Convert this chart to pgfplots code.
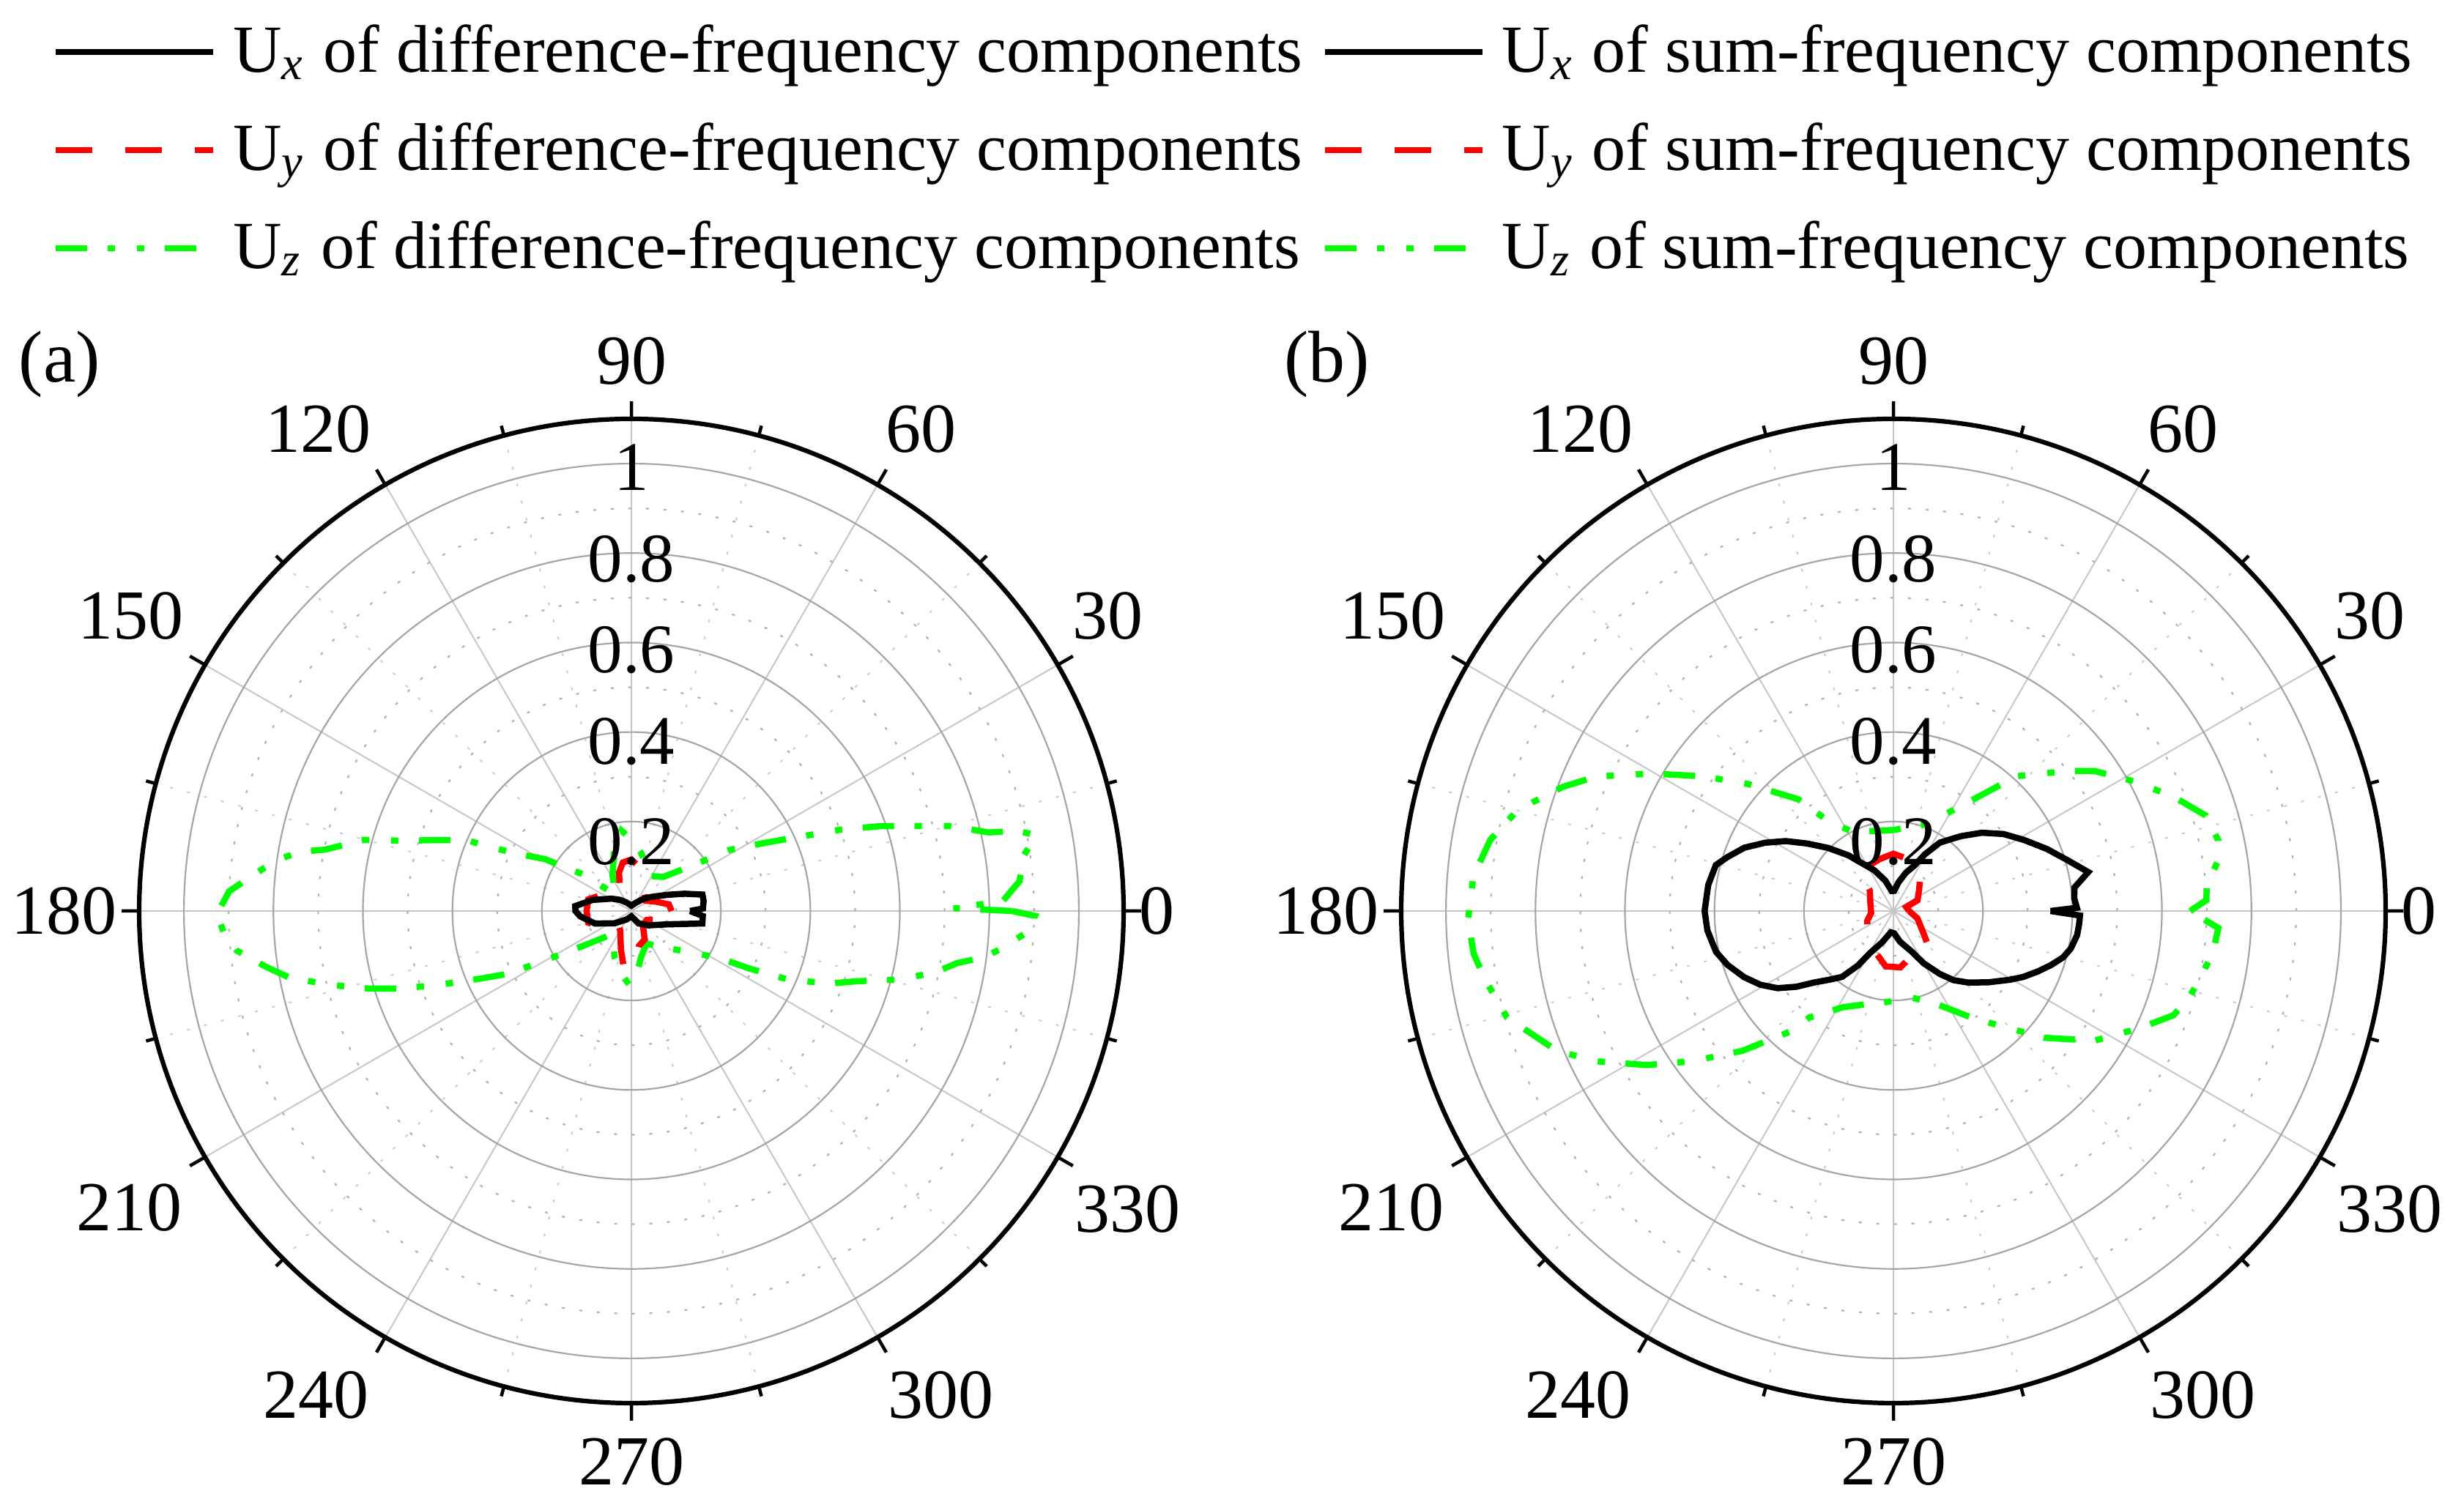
\documentclass[border=0pt]{standalone}
\usepackage{fontspec}
\setmainfont{Liberation Serif}
\usepackage{pgfplots}
\pgfplotsset{compat=1.18}
\usepgfplotslibrary{polar}

\tikzset{
  rlab/.style={font=\fontsize{9.5}{11}\selectfont, inner sep=0pt, anchor=center},
  alab/.style={font=\fontsize{9.6}{11}\selectfont, inner sep=0pt, anchor=center},
  cx/.style={black, line width=0.85pt},
  cy/.style={red, line width=0.85pt, dash pattern=on 5pt off 4.5pt},
  cz/.style={green, line width=0.85pt, dash pattern=on 4.3pt off 2.8pt on 1pt off 3pt on 1pt off 2.8pt},
}
\newcommand{\polarlabels}{%
  \node[rlab] at (axis cs:90,0.992) {1};
  \node[rlab] at (axis cs:90,0.787) {0.8};
  \node[rlab] at (axis cs:90,0.583) {0.6};
  \node[rlab] at (axis cs:90,0.378) {0.4};
  \node[rlab] at (axis cs:90,0.154) {0.2};
  \node[alab] at (axis cs:0,1.175) {0};
  \node[alab] at (axis cs:31.8,1.253) {30};
  \node[alab] at (axis cs:59,1.257) {60};
  \node[alab] at (axis cs:90,1.229) {90};
  \node[alab] at (axis cs:123,1.285) {120};
  \node[alab] at (axis cs:149.5,1.298) {150};
  \node[alab] at (axis cs:180,1.268) {180};
  \node[alab] at (axis cs:210.6,1.304) {210};
  \node[alab] at (axis cs:236.9,1.291) {240};
  \node[alab] at (axis cs:270,1.231) {270};
  \node[alab] at (axis cs:302.6,1.284) {300};
  \node[alab] at (axis cs:329,1.293) {330};
}
\pgfplotsset{
  mypolar/.style={
    scale only axis, width=134.4pt, height=134.4pt,
    anchor=center,
    xmin=0, xmax=360, ymin=0, ymax=1.1,
    xtick={0,30,...,330},
    minor xtick={15,45,...,345},
    xticklabels={},
    ytick={0.2,0.4,0.6,0.8,1.0},
    minor ytick={0.1,0.3,0.5,0.7,0.9},
    yticklabels={},
    grid=both,
    major x grid style={black!22, line width=0.2pt},
    minor x grid style={black!20, dotted, line width=0.2pt},
    major y grid style={black!35, line width=0.22pt},
    minor y grid style={black!30, dotted, line width=0.22pt},
    axis line style={black, line width=0.62pt},
    y axis line style={draw=none},
    tick align=inside,
    major tick length=2.4pt, minor tick length=1.4pt,
    xtick style={black, line width=0.45pt},
    ytick style={draw=none},
    clip=false,
  },
}

\begin{document}
\begin{tikzpicture}
\path[use as bounding box] (0,0) rectangle (336.4pt,205.1pt);

% ---------------- legend ----------------
\begin{axis}[hide axis, scale only axis, width=10pt, height=10pt,
  xmin=0, xmax=1, ymin=0, ymax=1,
  at={(168.25pt,184.6pt)}, anchor=center,
  legend columns=2,
  legend cell align=left,
  legend image code/.code={\draw[#1] (0pt,0pt) -- (21.5pt,0pt);},
  legend style={at={(0.5,0.5)}, anchor=center, draw=none, fill=none,
    inner sep=0pt, outer sep=0pt, column sep=2.3pt, row sep=3.8pt,
    font=\fontsize{9.2}{11}\selectfont,
    nodes={inner sep=0pt, text height=7.6pt, text depth=2.0pt},
    /tikz/every even column/.append style={column sep=2.6pt}},
]
\addlegendimage{cx}
\addlegendentry{U\textsubscript{\textit{x}} of difference-frequency components}
\addlegendimage{cx}
\addlegendentry{U\textsubscript{\textit{x}} of sum-frequency components}
\addlegendimage{cy}
\addlegendentry{U\textsubscript{\textit{y}} of difference-frequency components}
\addlegendimage{cy}
\addlegendentry{U\textsubscript{\textit{y}} of sum-frequency components}
\addlegendimage{cz}
\addlegendentry{U\textsubscript{\textit{z}} of difference-frequency components}
\addlegendimage{cz}
\addlegendentry{U\textsubscript{\textit{z}} of sum-frequency components}
\end{axis}

\node[anchor=west, inner sep=0pt, font=\fontsize{10}{12}\selectfont] at (2.4pt,155.3pt) {(a)};
\node[anchor=west, inner sep=0pt, font=\fontsize{10}{12}\selectfont] at (175.1pt,155.3pt) {(b)};

% ---------------- (a) difference-frequency ----------------
\begin{polaraxis}[mypolar, at={(86.2pt,80.7pt)}]
\addplot[cz] table {
0 0.85
0.5 0.72
1.5 0.83
4.4 0.87
8 0.885
10.6 0.921
11.7 0.882
12.4 0.818
14.9 0.737
17.1 0.647
18.9 0.585
21.3 0.50
23.9 0.408
26.6 0.344
29 0.30
32 0.257
36.7 0.17
47 0.104
60 0.09
72 0.11
81 0.133
90 0.16
97 0.181
106 0.14
118 0.09
128 0.06
135 0.053
143 0.137
149 0.225
153.7 0.292
155.9 0.357
156.7 0.401
160.1 0.466
162.8 0.531
165.1 0.618
168.7 0.699
169.8 0.75
171.9 0.803
174.2 0.842
177.2 0.900
180.4 0.926
183.5 0.91
185.7 0.887
188.7 0.826
191 0.779
193.7 0.696
196.5 0.611
198.5 0.547
201 0.46
204 0.373
207 0.309
210 0.216
216 0.132
228 0.073
240 0.08
250 0.11
260 0.14
268 0.164
275 0.14
282 0.105
295 0.08
307 0.10
325 0.16
332 0.226
334 0.293
336.4 0.384
339.9 0.472
342.7 0.528
345.6 0.617
348.6 0.693
350.9 0.737
352.5 0.794
354.2 0.831
357 0.887
359.3 0.902
360 0.85
};
\addplot[cy] table {
0 0.09
10 0.085
20 0.06
35 0.04
55 0.05
70 0.08
80 0.10
90 0.115
100 0.11
108 0.09
120 0.05
140 0.05
155 0.08
165 0.10
180 0.10
195 0.10
205 0.08
220 0.04
240 0.05
255 0.09
262 0.125
268 0.13
275 0.11
282 0.08
295 0.07
310 0.04
330 0.04
345 0.07
360 0.09
};
\addplot[cx] table {
0 0.131
2 0.16
8 0.163
13 0.163
18 0.125
24 0.089
35 0.055
45 0.039
60 0.022
90 0.012
120 0.022
135 0.035
148 0.052
164 0.09
175 0.126
180 0.125
186 0.115
199 0.086
216 0.047
240 0.022
270 0.012
300 0.032
320 0.05
340 0.087
350 0.161
356 0.16
360 0.131
};
\polarlabels
\end{polaraxis}

% ---------------- (b) sum-frequency ----------------
\begin{polaraxis}[mypolar, at={(258.5pt,80.7pt)}]
\addplot[cz] table {
0 0.663
2 0.70
4.5 0.702
8.8 0.734
12.3 0.743
17 0.73
22.2 0.676
28.3 0.611
34.8 0.548
38.9 0.498
43 0.45
47.6 0.408
52.5 0.329
60.5 0.254
71.8 0.202
90 0.181
105 0.185
116.7 0.196
126.3 0.253
130.4 0.328
138.9 0.432
144.7 0.521
150.3 0.62
155.6 0.728
159.4 0.789
164.9 0.869
170 0.915
175.3 0.942
181.2 0.951
185.8 0.943
189.4 0.926
195.4 0.896
202.6 0.814
206.9 0.743
212 0.65
216.7 0.562
222.8 0.46
229.9 0.349
231.7 0.303
236 0.275
242.3 0.243
255 0.215
266 0.204
281 0.196
295.5 0.232
306.3 0.296
314 0.362
320 0.441
327.2 0.535
334.6 0.61
339.6 0.668
344 0.69
352.4 0.72
357 0.727
360 0.663
};
\addplot[cy] table {
0 0.035
17 0.03
24 0.059
40 0.075
54 0.103
70 0.12
90 0.128
105 0.12
120 0.115
129 0.12
139 0.07
160 0.055
185 0.05
201 0.063
215 0.07
235 0.09
246 0.10
262 0.125
277 0.127
290 0.11
305 0.10
315 0.11
325 0.08
343 0.056
360 0.035
};
\addplot[cx] table {
0 0.351
1 0.41
4 0.405
7.4 0.408
11.3 0.444
16.6 0.403
22 0.37
28.6 0.332
35 0.30
41.5 0.264
48 0.225
55.8 0.185
61 0.145
65 0.113
72 0.09
80 0.065
88 0.045
95 0.045
105 0.07
115 0.10
122 0.122
129 0.16
136 0.203
142 0.245
147 0.287
152 0.325
157 0.362
162 0.39
165.5 0.41
172 0.418
180 0.422
186 0.418
192.9 0.407
198 0.39
203.9 0.365
209 0.34
213.7 0.311
218 0.275
222 0.239
227 0.21
232 0.187
237 0.145
240.8 0.108
250 0.075
263 0.048
272 0.05
282 0.07
294.3 0.10
300 0.135
306.4 0.175
311 0.205
316.2 0.231
323 0.265
329.4 0.302
333 0.325
337.3 0.35
341 0.372
344.7 0.393
348 0.405
352.5 0.414
356 0.416
358.6 0.417
360 0.351
};
\polarlabels
\end{polaraxis}
\end{tikzpicture}
\end{document}
